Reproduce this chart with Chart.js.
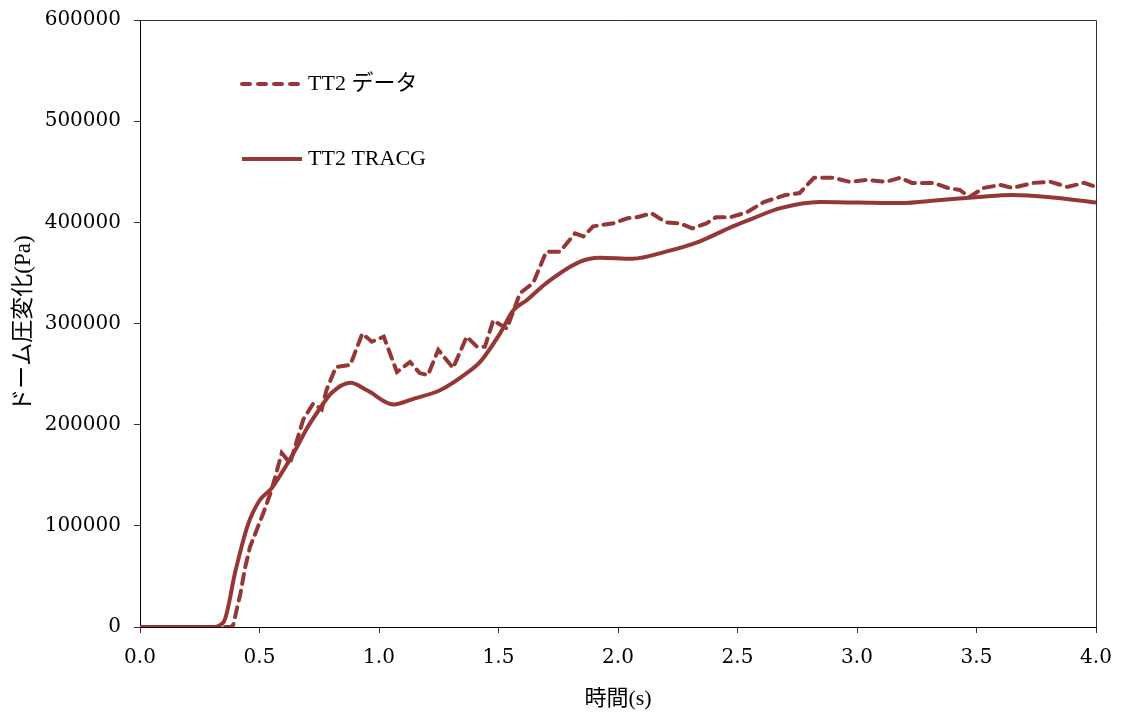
<!DOCTYPE html>
<html>
<head>
<meta charset="utf-8">
<script src="https://cdn.jsdelivr.net/npm/chart.js@4.4.1/dist/chart.umd.min.js"></script>
<style>
  html, body { margin: 0; padding: 0; background: #fff; }
  #wrap { width: 1122px; height: 715px; }
</style>
</head>
<body>
<div id="wrap"><canvas id="chart" width="1122" height="715"></canvas></div>
<script>
// ---- data ----
var dataTime = [0, 0.2, 0.38, 0.39, 0.42, 0.44, 0.46, 0.515, 0.55, 0.593, 0.628, 0.683, 0.725, 0.76, 0.78, 0.82, 0.88, 0.93, 0.97, 1.02, 1.075, 1.13, 1.17, 1.205, 1.248, 1.31, 1.367, 1.41, 1.443, 1.478, 1.535, 1.59, 1.645, 1.70, 1.757, 1.82, 1.855, 1.896, 1.98, 2.04, 2.08, 2.14, 2.20, 2.26, 2.31, 2.37, 2.41, 2.47, 2.54, 2.61, 2.70, 2.76, 2.82, 2.90, 2.97, 3.04, 3.12, 3.18, 3.23, 3.32, 3.38, 3.43, 3.47, 3.53, 3.60, 3.65, 3.74, 3.81, 3.88, 3.95, 4.0];
var dataPa = [0, 0, 0, 2000, 33000, 59000, 79000, 112000, 135000, 172000, 162000, 205000, 221000, 215000, 234000, 257000, 259000, 290000, 282000, 287000, 252000, 262000, 251000, 249000, 274000, 256000, 287000, 277000, 277000, 303000, 295000, 330000, 340000, 371000, 371000, 389000, 386000, 396000, 399000, 404000, 405000, 409000, 400000, 399000, 394000, 399000, 405000, 405000, 410000, 420000, 427000, 429000, 444000, 444000, 440000, 442000, 440000, 444000, 439000, 439000, 434000, 432000, 425000, 434000, 437000, 434000, 439000, 440000, 435000, 439000, 435000];

var tracgTime = [0, 0.2, 0.3, 0.35, 0.4, 0.45, 0.5, 0.55, 0.6, 0.65, 0.7, 0.75, 0.8, 0.88, 0.95, 1.06, 1.15, 1.255, 1.367, 1.423, 1.506, 1.562, 1.618, 1.70, 1.84, 1.925, 2.06, 2.20, 2.34, 2.48, 2.565, 2.68, 2.845, 3.01, 3.18, 3.35, 3.51, 3.65, 3.82, 4.0];
var tracgPa = [0, 0, 0, 5000, 56000, 100000, 125000, 137000, 155000, 175000, 197000, 215000, 231000, 241500, 234000, 220000, 226000, 234000, 251000, 262000, 290000, 313000, 323000, 340000, 361000, 365000, 364000, 371000, 381000, 396000, 404000, 414000, 420000, 419500, 419000, 422000, 425000, 427000, 424500, 419500];

var seriesNames = ['TT2 データ', 'TT2 TRACG'];
var xTitle = '時間(s)';
var yTitle = 'ドーム圧変化(Pa)';

var lineColor = '#953735';
var serif = "'DejaVu Serif', 'Liberation Serif', serif";
var jp = "'Liberation Serif', 'Noto Sans CJK JP', serif";

function toPoints(xs, ys) {
    return xs.map(function (x, i) { return { x: x, y: ys[i] }; });
}

// frame around plot + legend inside plot area
var framePlugin = {
    id: 'frame',
    afterDraw: function (chart) {
        var ctx = chart.ctx, a = chart.chartArea;
        ctx.save();
        ctx.strokeStyle = '#333';
        ctx.lineWidth = 1;
        ctx.beginPath();
        ctx.moveTo(a.left, a.top + 0.5);
        ctx.lineTo(a.right + 0.5, a.top + 0.5);
        ctx.lineTo(a.right + 0.5, a.bottom);
        ctx.stroke();

        // legend
        var rows = [84, 159];
        chart.data.datasets.forEach(function (ds, i) {
            var y = rows[i];
            ctx.strokeStyle = ds.borderColor;
            ctx.lineWidth = 4;
            ctx.lineCap = ds.borderDash ? 'round' : 'butt';
            ctx.setLineDash(ds.borderDash ? [8, 8] : []);
            ctx.beginPath();
            ctx.moveTo(242, y);
            ctx.lineTo(302, y);
            ctx.stroke();
            ctx.setLineDash([]);
            ctx.fillStyle = '#000';
            ctx.font = '22px ' + jp;
            ctx.textBaseline = 'middle';
            ctx.fillText(ds.label, 308, y);
        });
        ctx.restore();
    }
};

var chart = new Chart(document.getElementById('chart'), {
    type: 'line',
    data: {
        datasets: [{
            label: seriesNames[0],
            data: toPoints(dataTime, dataPa),
            borderColor: lineColor,
            borderWidth: 4,
            borderDash: [10, 7],
            borderCapStyle: 'round',
            pointRadius: 0,
            tension: 0,
            fill: false
        }, {
            label: seriesNames[1],
            data: toPoints(tracgTime, tracgPa),
            borderColor: lineColor,
            borderWidth: 4,
            pointRadius: 0,
            cubicInterpolationMode: 'monotone',
            fill: false
        }]
    },
    options: {
        responsive: false,
        animation: false,
        layout: { padding: { top: 20, right: 26, left: 0, bottom: 0 } },
        plugins: {
            legend: { display: false },
            tooltip: { enabled: false }
        },
        scales: {
            x: {
                type: 'linear',
                min: 0,
                max: 4,
                grid: { drawOnChartArea: false, tickLength: 6, color: '#333' },
                border: { color: '#000', width: 1 },
                ticks: {
                    stepSize: 0.5,
                    padding: 13,
                    color: '#000',
                    font: { family: serif, size: 20 },
                    callback: function (v) { return v.toFixed(1); }
                },
                title: {
                    display: true,
                    text: xTitle,
                    color: '#000',
                    font: { family: jp, size: 22 },
                    padding: { top: 10, bottom: 3 }
                },
                afterFit: function (s) {
                    s.height = 88;
                    s.paddingLeft = 0;
                    s.paddingRight = 0;
                }
            },
            y: {
                min: 0,
                max: 600000,
                grid: { drawOnChartArea: false, tickLength: 6, color: '#333' },
                border: { color: '#000', width: 1 },
                ticks: {
                    stepSize: 100000,
                    padding: 13,
                    color: '#000',
                    font: { family: serif, size: 20 },
                    callback: function (v) { return String(v); }
                },
                title: {
                    display: true,
                    text: yTitle,
                    color: '#000',
                    font: { family: jp, size: 23 },
                    padding: { top: 10, bottom: 0 }
                },
                afterFit: function (s) {
                    s.width = 140;
                    s.paddingTop = 0;
                    s.paddingBottom = 0;
                }
            }
        }
    },
    plugins: [framePlugin]
});
</script>
</body>
</html>
